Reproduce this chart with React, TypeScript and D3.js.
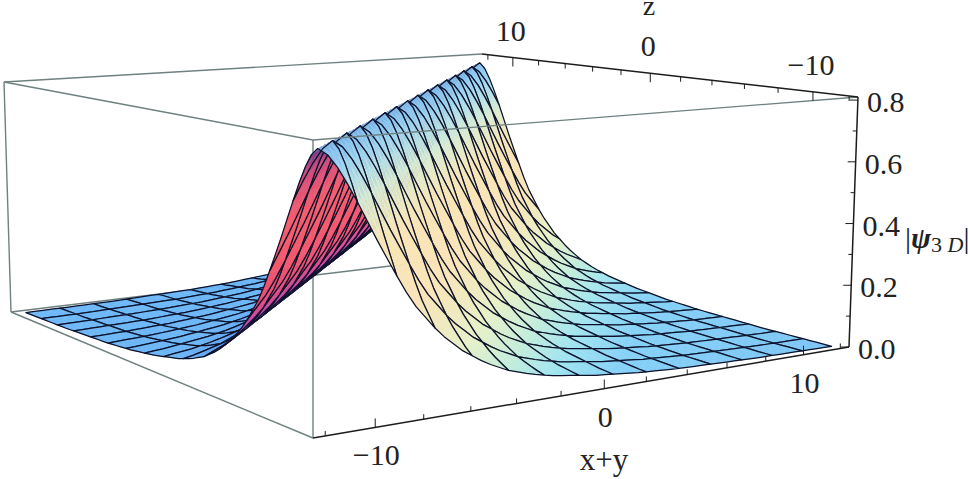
import React from "react";
import * as d3 from "d3";

// ---- data ----
const uTicks = [-12, -10, -8, -6, -4, -2, 0, 2, 4, 6, 8, 10, 12];
const uLabels = [-10, 0, 10];
const zTicks = [12, 10, 8, 6, 4, 2, 0, -2, -4, -6, -8, -10, -12];
const zLabels = [10, 0, -10];
const hTicks = [0, 0.1, 0.2, 0.3, 0.4, 0.5, 0.6, 0.7, 0.8];
const hLabels = [0, 0.2, 0.4, 0.6, 0.8];
// ridge profile: height against w = (x+y) - z
const profileW = [0, 0.5, 1, 1.5, 2, 2.5, 3, 3.5, 4, 5, 6, 7, 8, 9, 10, 12, 14, 16, 20, 24];
const profileH = [0.78, 0.755, 0.7, 0.635, 0.565, 0.495, 0.43, 0.365, 0.31, 0.225, 0.165, 0.12, 0.088, 0.067, 0.052, 0.032, 0.019, 0.011, 0.003, 0];
// surface colour against w
const shadeW = [-24, -10, -7.5, -6, -5.2, -4.2, -3.2, -2, -1, -0.4, 0, 0.4, 1, 1.7, 2.5, 4, 6, 8, 10, 13, 24];
const shadeC = ["#6db8f8", "#6ab4f6", "#5f9ef2", "#6a66e6", "#c44ab4", "#ee4f78", "#f2566a", "#f25a6c", "#d04a7c", "#6f3a88", "#7fb8ea", "#8cc8f2", "#a8dcf0", "#dcecd0", "#f8e4b4", "#f8e4b8", "#e6f0c8", "#c0ecdc", "#a0e4f0", "#84d0f6", "#7cc4f5"];
// mesh sample positions
const meshU = d3.range(16).map((i) => -12 + (24 * i) / 15);
const meshZ = meshU;

// ---- box layout (screen corners) ----
type P = [number, number];
const baseQuad: P[] = [[313, 438], [849, 347], [481, 255], [11, 312]];
const topQuad: P[] = [[313, 140], [858, 97], [482, 54], [4, 82]];
const uDomain: P = [-12.48, 12.48];
const zDomain: P = [-12.48, 12.48];
const hDomain: P = [0, 0.81];

function homography(q: P[]) {
  const [[x0, y0], [x1, y1], [x2, y2], [x3, y3]] = q;
  const dx1 = x1 - x2, dx2 = x3 - x2, sx = x0 - x1 + x2 - x3;
  const dy1 = y1 - y2, dy2 = y3 - y2, sy = y0 - y1 + y2 - y3;
  const den = dx1 * dy2 - dx2 * dy1;
  const g = (sx * dy2 - dx2 * sy) / den;
  const h = (dx1 * sy - sx * dy1) / den;
  const a = x1 - x0 + g * x1, b = x3 - x0 + h * x3;
  const d = y1 - y0 + g * y1, e = y3 - y0 + h * y3;
  return (s: number, t: number): P => {
    const w = g * s + h * t + 1;
    return [(a * s + b * t + x0) / w, (d * s + e * t + y0) / w];
  };
}
const baseH = homography(baseQuad);
const topH = homography(topQuad);
const sScale = d3.scaleLinear().domain(uDomain).range([0, 1]);
const tScale = d3.scaleLinear().domain(zDomain).range([0, 1]);
const vScale = d3.scaleLinear().domain(hDomain).range([0, 1]);
const project = (u: number, z: number, h: number): P => {
  const b = baseH(sScale(u), tScale(z));
  const t = topH(sScale(u), tScale(z));
  const v = vScale(h);
  return [b[0] + (t[0] - b[0]) * v, b[1] + (t[1] - b[1]) * v];
};
const heightOf = d3.scaleLinear().domain(profileW).range(profileH).clamp(true);
const colorOf = d3.scaleLinear<string>().domain(shadeW).range(shadeC).interpolate(d3.interpolateRgb).clamp(true);
const surf = (u: number, z: number): P => project(u, z, heightOf(Math.abs(u - z)));
const line2 = d3.line<P>();
const SUB = 4;

function Surface() {
  const cells: { i: number; j: number }[] = [];
  for (let i = 0; i < meshU.length - 1; i++) for (let j = 0; j < meshZ.length - 1; j++) cells.push({ i, j });
  cells.sort((a, b) => b.i + b.j - (a.i + a.j));
  return (
    <g>
      {cells.map(({ i, j }) => {
        const u0 = meshU[i], u1 = meshU[i + 1], z0 = meshZ[j], z1 = meshZ[j + 1];
        const us = d3.range(SUB + 1).map((k) => u0 + ((u1 - u0) * k) / SUB);
        const zs = d3.range(SUB + 1).map((k) => z0 + ((z1 - z0) * k) / SUB);
        const subs: React.ReactNode[] = [];
        for (let a = SUB - 1; a >= 0; a--)
          for (let b = SUB - 1; b >= 0; b--) {
            const col = colorOf((us[a] + us[a + 1]) / 2 - (zs[b] + zs[b + 1]) / 2);
            const pts: P[] = [surf(us[a], zs[b]), surf(us[a + 1], zs[b]), surf(us[a + 1], zs[b + 1]), surf(us[a], zs[b + 1])];
            subs.push(<path key={`${a}-${b}`} d={line2(pts) + "Z"} fill={col} stroke={col} strokeWidth={0.5} />);
          }
        const outline: P[] = [
          ...us.map((u) => surf(u, z0)),
          ...zs.slice(1).map((z) => surf(u1, z)),
          ...us.slice(0, -1).reverse().map((u) => surf(u, z1)),
          ...zs.slice(1, -1).reverse().map((z) => surf(u0, z)),
        ];
        return (
          <g key={`${i}-${j}`}>
            {subs}
            <path d={line2(outline) + "Z"} fill="none" stroke="#0c1028" strokeWidth={1.25} strokeLinejoin="round" />
          </g>
        );
      })}
    </g>
  );
}

const GREY = "#6f8080";
const INK = "#1c1c1c";
const FONT = "'Liberation Serif', 'Times New Roman', serif";

export default function App() {
  const Fb = baseQuad[0], Rb = baseQuad[1], Q = baseQuad[2], Lb = baseQuad[3];
  const Ft = topQuad[0], Rt = topQuad[1], Bt = topQuad[2], Lt = topQuad[3];
  const fmt = (v: number) => String(v).replace("-", "\u2212");
  return (
    <svg width={968} height={479} viewBox="0 0 968 479" style={{ position: "absolute", left: 0, top: 0, background: "#fff" }} fontFamily={FONT} fill="#222">
      {/* box edges behind the surface */}
      <g stroke={GREY} strokeWidth={1.4} fill="none">
        <path d={line2([Lt, Bt])!} />
        <path d={line2([Lt, Ft])!} />
        <path d={line2([Lt, Lb])!} />
        <path d={line2([Lb, Fb])!} />
        <path d={line2([Lb, Q])!} />
        <path d={line2([Ft, Fb])!} />
      </g>
      <Surface />
      {/* box edges and axes in front */}
      <path d={line2([Ft, Rt])!} stroke={GREY} strokeWidth={1.3} fill="none" />
      <g stroke={INK} fill="none">
        <path d={line2([Fb, Rb])!} strokeWidth={1.5} />
        <path d={line2([Bt, Rt])!} strokeWidth={1.5} />
        <path d={line2([Rb, Rt])!} strokeWidth={1.5} />
        {uTicks.map((u) => {
          const [x, y] = project(u, zDomain[0], 0);
          return <path key={u} d={`M${x},${y}V${y - (uLabels.includes(u) ? 9 : 5)}`} strokeWidth={1} />;
        })}
        {zTicks.map((z) => {
          const [x, y] = project(uDomain[1], z, hDomain[1]);
          return <path key={z} d={`M${x},${y}V${y + (zLabels.includes(z) ? 9 : 5)}`} strokeWidth={1} />;
        })}
        {hTicks.map((h) => {
          const [x, y] = project(uDomain[1], zDomain[0], h);
          return <path key={h} d={`M${x},${y}H${x - (hLabels.includes(h) ? 8 : 4)}`} strokeWidth={1} />;
        })}
      </g>
      <g fontSize={30} textAnchor="middle">
        {uLabels.map((u) => {
          const [x, y] = project(u, zDomain[0], 0);
          return <text key={u} x={x + 1} y={y + 38}>{fmt(u)}</text>;
        })}
        {zLabels.map((z) => {
          const [x, y] = project(uDomain[1], z, hDomain[1]);
          return <text key={z} x={x - 2} y={y - 17}>{fmt(z)}</text>;
        })}
      </g>
      <g fontSize={30}>
        {hLabels.map((h) => {
          const [x, y] = project(uDomain[1], zDomain[0], h);
          return <text key={h} x={x + 9} y={y + 12}>{h.toFixed(1)}</text>;
        })}
      </g>
      <text x={604} y={470} fontSize={31} textAnchor="middle">x+y</text>
      <text x={649} y={15} fontSize={28} textAnchor="middle">z</text>
      <text x={905} y={248} fontSize={30}>|<tspan fontStyle="italic" fontWeight="bold">ψ</tspan><tspan fontSize={22} dy={4}>3 </tspan><tspan fontSize={22} fontStyle="italic">D</tspan><tspan dy={-4}>|</tspan></text>
    </svg>
  );
}
